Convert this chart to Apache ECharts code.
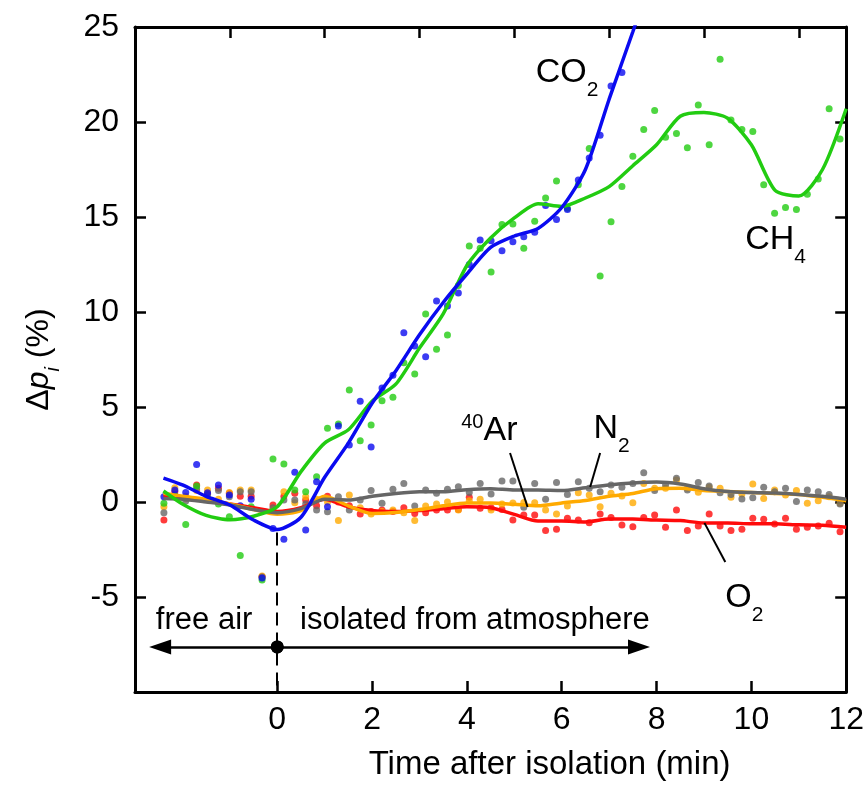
<!DOCTYPE html>
<html>
<head>
<meta charset="utf-8">
<title>Δp_i after isolation</title>
<script src="https://cdn.jsdelivr.net/npm/echarts@6/dist/echarts.min.js"></script>
<style>
  html, body { margin: 0; padding: 0; background: #fff; }
  #chart { width: 867px; height: 792px; }
</style>
</head>
<body>
<div id="chart"></div>
<script>
const FONT = '"Liberation Sans", Arial, Helvetica, sans-serif'

// measurement times (min)
const pointTime = [-2.39, -2.16, -1.93, -1.70, -1.47, -1.24, -1.01, -0.78, -0.55, -0.32,
    -0.09, 0.14, 0.37, 0.60, 0.83, 1.06, 1.29, 1.52, 1.75, 1.98,
    2.21, 2.44, 2.67, 2.90, 3.13, 3.36, 3.59, 3.82, 4.05, 4.28,
    4.51, 4.74, 4.97, 5.20, 5.43, 5.66, 5.89, 6.12, 6.35, 6.58,
    6.81, 7.04, 7.27, 7.50, 7.73, 7.96, 8.19, 8.42, 8.65, 8.88,
    9.11, 9.34, 9.57, 9.80, 10.03, 10.26, 10.49, 10.72, 10.95, 11.18,
    11.41, 11.64, 11.87]

const co2Points = [0.28, 0.63, 0.5, 1.98, 0.49, 0.89, 0.37, -0.2, 0.14, -4.0,
    -1.39, -1.96, 1.56, -1.47, 1.07, -0.25, 4.0, 3.0, 5.3, 2.9,
    6.0, 6.67, 8.91, 8.21, 7.65, 10.58, 10.32, 11.0, 12.5, 13.79,
    13.75, 13.23, 13.7, 13.96, 14.2, 15.6, 14.87, 15.4, 16.95, 18.1,
    19.3, 21.9, 22.6]
const ch4Points = [-0.07, 0.3, -1.18, 0.84, 0.19, -0.1, -0.77, -2.82, -0.25, -4.1,
    2.26, 2.0, 0.63, 0.54, 1.33, 3.88, 4.1, 5.9, 3.23, 4.05,
    5.33, 5.51, 7.33, 6.74, 9.9, 8.04, 8.79, 11.4, 13.47, 13.35,
    12.11, 14.6, 14.63, 13.35, 14.77, 16.0, 16.9, 15.46, 16.7, 18.6,
    11.9, 14.75, 16.6, 18.2, 19.6, 20.6, 19.2, 19.4, 18.65, 20.9,
    18.8, 23.3, 20.1, 19.6, 19.5, 16.7, 15.2, 15.5, 15.4, 16.2,
    17.0, 20.7, 19.1]
const o2Points = [-0.95, 0.55, 0.2, 0.9, 0.45, 0.72, 0.46, 0.3, 0.3, -3.93,
    -0.16, 0.3, 0.46, 0.1, -0.2, 0.3, 0.0, -0.2, -0.63, -0.5,
    -0.42, -0.5, -0.3, -0.6, -0.56, -0.42, -0.42, -0.4, 0.25, -0.33,
    -0.3, -0.4, -0.95, -0.68, -0.68, -1.5, -1.44, -0.86, -0.95, -1.09,
    -0.63, -0.81, -1.21, -1.3, -0.81, -0.68, -1.33, -0.42, -1.5, -1.26,
    -0.63, -1.26, -1.5, -1.44, -0.86, -0.91, -1.16, -0.86, -1.44, -1.33,
    -1.26, -1.12, -1.56]
const n2Points = [-0.56, 0.37, 0.05, 0.7, 0.4, 0.6, 0.28, 0.54, 0.54, -3.95,
    -0.3, 0.1, 0.1, -0.1, -0.42, -0.51, 0.28, -0.42, 0.1, 0.6,
    -0.07, 0.67, 0.98, -0.21, 0.63, 0.46, 0.67, 0.8, 0.5, 0.98,
    0.42, 1.1, 1.1, -0.28, 0.98, 0.14, 1.02, 0.4, 1.07, 0.72,
    0.54, 0.9, 0.77, 0.98, 1.54, 0.6, 0.9, 1.25, 0.63, 1.02,
    0.84, 0.49, 0.4, 0.16, 0.23, 0.77, 0.54, 0.72, 0.02, 0.63,
    0.54, 0.4, -0.1]
const arPoints = [-0.25, 0.75, 0.3, 0.6, 0.63, 0.14, 0.5, 0.63, 0.63, -3.9,
    -0.4, 0.54, -0.04, 0.28, 0.14, 0.0, -0.98, 0.37, -0.3, -0.63,
    -0.5, -0.42, -0.56, -0.98, -0.21, -0.1, 0.0, -0.42, 0.07, 0.14,
    -0.42, -0.1, -0.05, -0.02, -0.04, -0.42, -0.63, -0.21, 0.49, 0.37,
    -0.25, 0.46, 0.32, -0.04, 0.98, 0.72, 0.72, 1.16, 0.72, 0.51,
    0.77, 0.72, 0.25, 0.42, 0.95, 0.19, 0.63, 0.37, 0.6, -0.07,
    0.07, 0.28, -0.07]

// smoothed curves
const lineTime = [-2.4, -2, -1.5, -1, -0.5, 0, 0.5, 1, 1.5, 2, 2.5, 3, 3.5, 4, 4.5,
    5, 5.5, 6, 6.5, 7, 7.5, 8, 8.5, 9, 9.5, 10, 10.5, 11, 11.5, 12]
const co2Line = [1.26, 0.9, 0.3, -0.16, -0.95, -1.45, -0.8, 1.3, 3.1, 5.2, 6.9, 8.8, 10.5, 12.0, 13.4,
    14.0, 14.4, 15.5, 17.5, 21.2, 24.75, 28.3, null, null, null, null, null, null, null, null]
const ch4Line = [0.58, -0.1, -0.7, -0.93, -0.75, -0.25, 1.6, 3.1, 3.8, 5.3, 6.2, 8.1, 9.9, 12.45, 13.9,
    14.95, 15.7, 15.55, 16.0, 16.6, 17.7, 18.8, 20.3, 20.5, 20.2, 18.8, 16.4, 16.1, 17.5, 20.7]
const o2Line = [0.37, 0.25, 0.1, -0.1, -0.3, -0.5, -0.3, 0.15, -0.25, -0.45, -0.5, -0.45, -0.35, -0.25, -0.3,
    -0.65, -1.0, -1.0, -1.05, -0.9, -0.9, -0.95, -0.98, -1.1, -1.1, -1.15, -1.15, -1.2, -1.22, -1.33]
const n2Line = [0.19, 0.15, 0.0, -0.16, -0.4, -0.56, -0.35, 0.15, 0.1, 0.3, 0.45, 0.54, 0.54, 0.65, 0.7,
    0.63, 0.63, 0.6, 0.75, 0.9, 1.0, 1.05, 0.95, 0.7, 0.55, 0.5, 0.47, 0.4, 0.3, 0.15]
const arLine = [0.46, 0.3, 0.15, -0.1, -0.4, -0.65, -0.45, 0.3, -0.2, -0.6, -0.55, -0.4, -0.2, -0.05, -0.05,
    -0.12, -0.2, -0.05, 0.08, 0.3, 0.45, 0.7, 0.72, 0.6, 0.55, 0.5, 0.45, 0.4, 0.25, 0.07]

const xTickValues = [0, 2, 4, 6, 8, 10]
const xLabelValues = [0, 2, 4, 6, 8, 10, 12]
const topTickValues = [-1, 1, 3, 5, 7, 9, 11]
const yTickValues = [-5, 0, 5, 10, 15, 20]
const yLabelValues = [-5, 0, 5, 10, 15, 20, 25]

const colors = {
    co2: '#0a0af0',
    ch4: '#22cc11',
    o2: '#ff0a0a',
    n2: '#666666',
    ar: '#ffaa00'
}

function pairs(times, values) {
    return times.map((t, i) => [t, values[i]]).filter(p => p[1] != null)
}

function scatter(values, color) {
    return {
        type: 'scatter',
        data: pairs(pointTime, values),
        symbolSize: 7,
        itemStyle: { color: color },
        silent: true,
        z: 2
    }
}

function curve(values, color) {
    return {
        type: 'line',
        data: pairs(lineTime, values),
        showSymbol: false,
        smooth: 0.25,
        clip: true,
        lineStyle: { color: color, width: 3.5 },
        silent: true,
        z: 3
    }
}

const axisLine = { show: true, onZero: false, lineStyle: { color: '#000', width: 3 } }
const tickStyle = { color: '#000', width: 2.5 }

var myChart = echarts.init(document.getElementById('chart'))
const option = {
    animation: false,
    grid: { left: 135, right: 18, top: 27, bottom: 100 },
    xAxis: [
        {
            type: 'value',
            position: 'bottom',
            min: -3,
            max: 12,
            axisLine: axisLine,
            axisTick: { show: true, inside: true, length: 11, lineStyle: tickStyle, customValues: xTickValues },
            axisLabel: { customValues: xLabelValues, fontSize: 32, fontFamily: FONT, color: '#000', margin: 12 },
            splitLine: { show: false },
            name: 'Time after isolation (min)',
            nameLocation: 'middle',
            nameGap: 56,
            nameTextStyle: { fontSize: 33, fontFamily: FONT, color: '#000', padding: [0, 0, 0, 118] }
        },
        {
            type: 'value',
            position: 'top',
            min: -3,
            max: 12,
            axisLine: axisLine,
            axisTick: { show: true, inside: true, length: 11, lineStyle: tickStyle, customValues: topTickValues },
            axisLabel: { show: false },
            splitLine: { show: false }
        }
    ],
    yAxis: [
        {
            type: 'value',
            position: 'left',
            min: -10,
            max: 25,
            axisLine: axisLine,
            axisTick: { show: true, inside: true, length: 11, lineStyle: tickStyle, customValues: yTickValues },
            axisLabel: { customValues: yLabelValues, fontSize: 32, fontFamily: FONT, color: '#000', margin: 16 },
            splitLine: { show: false },
            name: '{d|Δ}{p|p}{s|i}{d| (%)}',
            nameLocation: 'middle',
            nameGap: 72,
            nameRotate: 90,
            nameTextStyle: {
                rich: {
                    d: { fontSize: 32, fontFamily: FONT, color: '#000', lineHeight: 48, verticalAlign: 'middle' },
                    p: { fontSize: 32, fontFamily: FONT, fontStyle: 'italic', color: '#000', lineHeight: 48, verticalAlign: 'middle' },
                    s: { fontSize: 20, fontFamily: FONT, fontStyle: 'italic', color: '#000', lineHeight: 20, verticalAlign: 'bottom' }
                }
            }
        },
        {
            type: 'value',
            position: 'right',
            min: -10,
            max: 25,
            axisLine: axisLine,
            axisTick: { show: true, inside: true, length: 11, lineStyle: tickStyle, customValues: yTickValues },
            axisLabel: { show: false },
            splitLine: { show: false }
        }
    ],
    series: [
        scatter(o2Points, colors.o2),
        scatter(arPoints, colors.ar),
        scatter(n2Points, colors.n2),
        scatter(ch4Points, colors.ch4),
        scatter(co2Points, colors.co2),
        curve(o2Line, colors.o2),
        curve(arLine, colors.ar),
        curve(n2Line, colors.n2),
        curve(ch4Line, colors.ch4),
        curve(co2Line, colors.co2),
        {
            // annotation strokes: isolation marker, arrows, label leaders
            type: 'line',
            data: [],
            z: 4,
            markLine: {
                silent: true,
                animation: false,
                symbol: 'none',
                label: { show: false },
                lineStyle: { color: '#000', width: 2, type: 'solid' },
                data: [
                    [{ coord: [0, -1.6], lineStyle: { type: [13, 7], width: 2 } }, { coord: [0, -10] }],
                    [{ coord: [0, -7.63], symbol: 'circle', symbolSize: 13, lineStyle: { width: 2.5 } },
                     { coord: [-2.47, -7.63], symbol: 'triangle', symbolSize: [15, 22] }],
                    [{ coord: [0, -7.63], symbol: 'circle', symbolSize: 13, lineStyle: { width: 2.5 } },
                     { coord: [7.63, -7.63], symbol: 'triangle', symbolSize: [15, 22] }],
                    [{ coord: [4.91, 2.58] }, { coord: [5.28, -0.26] }],
                    [{ coord: [6.81, 2.58] }, { coord: [6.6, 0.79] }],
                    [{ coord: [9.45, -3.16] }, { coord: [9.01, -1.1] }]
                ]
            }
        }
    ]
}
myChart.setOption(option)

// text annotations placed in data space
const subRich = {
    m: { fontSize: 34, fontFamily: FONT, fill: '#000', lineHeight: 56, verticalAlign: 'middle' },
    s: { fontSize: 21, fontFamily: FONT, fill: '#000', lineHeight: 21, verticalAlign: 'bottom' }
}
const supRich = {
    m: { fontSize: 34, fontFamily: FONT, fill: '#000', lineHeight: 36, verticalAlign: 'middle' },
    s: { fontSize: 20, fontFamily: FONT, fill: '#000', lineHeight: 20, verticalAlign: 'top' }
}
const labels = [
    { at: [5.45, 22.58], text: '{m|CO}{s|2}', rich: subRich },
    { at: [9.87, 13.79], text: '{m|CH}{s|4}', rich: subRich },
    { at: [3.88, 3.74], text: '{s|40}{m|Ar}', rich: supRich },
    { at: [6.67, 3.84], text: '{m|N}{s|2}', rich: subRich },
    { at: [9.45, -5.05], text: '{m|O}{s|2}', rich: subRich },
    { at: [-2.56, -6.21], text: 'free air', size: 31 },
    { at: [0.48, -6.21], text: 'isolated from atmosphere', size: 31 }
]
myChart.setOption({
    graphic: labels.map(l => {
        const p = myChart.convertToPixel({ seriesIndex: 0 }, l.at)
        const style = { text: l.text, align: 'left', verticalAlign: 'middle', fill: '#000' }
        if (l.rich) style.rich = l.rich
        else { style.fontSize = l.size; style.fontFamily = FONT }
        return { type: 'text', x: p[0], y: p[1], silent: true, z: 10, style: style }
    })
})
</script>
</body>
</html>
